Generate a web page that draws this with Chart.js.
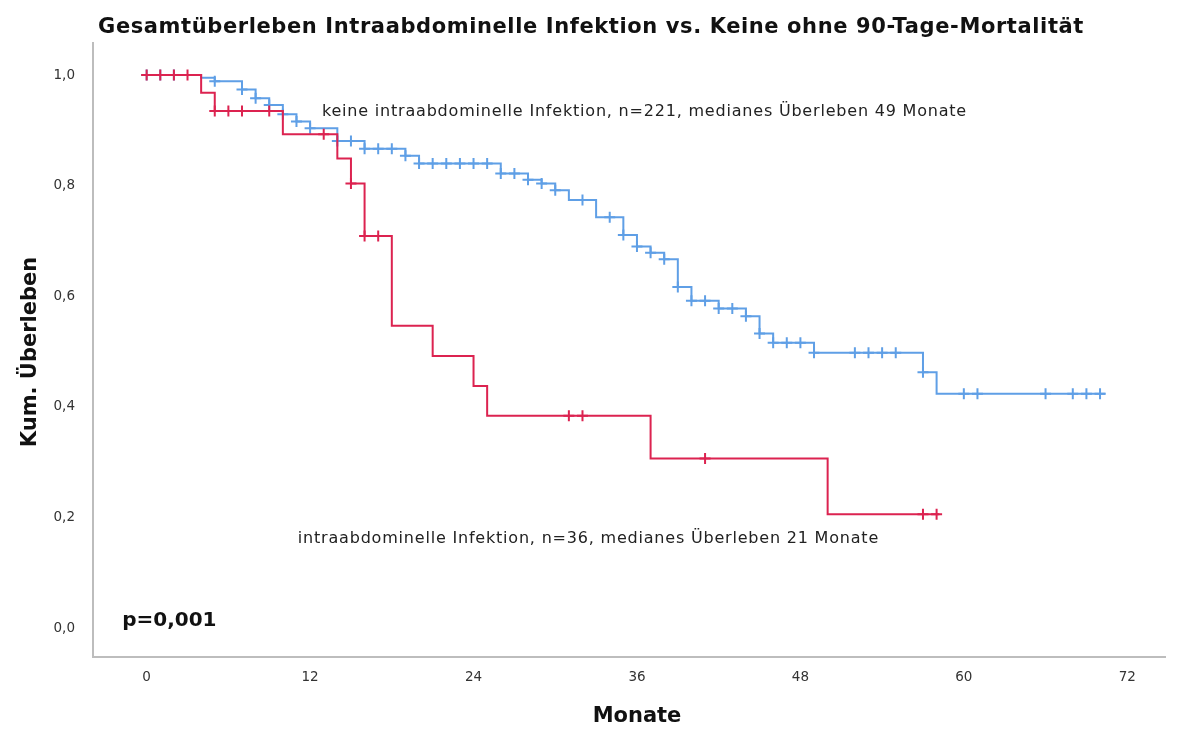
<!DOCTYPE html>
<html>
<head>
<meta charset="utf-8">
<script src="https://cdn.jsdelivr.net/npm/chart.js@4"></script>
<style>
  html, body { margin: 0; padding: 0; background: #fff; }
  #km { display: block; }
</style>
</head>
<body>
<canvas id="km" width="1179" height="729"></canvas>
<script>
// keine intraabdominelle Infektion (n=221)
const blueTimes = [0, 4, 5, 7, 8, 9, 10, 11, 12, 14, 16, 19, 20, 26, 28, 29, 30, 31, 33, 35, 36, 37, 38, 39, 40, 42, 44, 45, 46, 49, 57, 58]
const blueSurv = [1.0, 0.995, 0.989, 0.974, 0.958, 0.946, 0.929, 0.916, 0.904, 0.881, 0.867, 0.854, 0.840, 0.822, 0.811, 0.804, 0.792, 0.774, 0.743, 0.711, 0.690, 0.679, 0.667, 0.617, 0.592, 0.578, 0.564, 0.533, 0.516, 0.498, 0.463, 0.424]
const blueEnd = 70.4
const blueCensor = [0, 1, 2, 5, 7, 8, 9, 10, 11, 12, 14, 15, 16, 17, 18, 19, 20, 21, 22, 23, 24, 25, 26, 27, 28, 29, 30, 32, 34, 35, 36, 37, 38, 39, 40, 41, 42, 43, 44, 45, 46, 47, 48, 49, 52, 53, 54, 55, 57, 60, 61, 66, 68, 69, 70]

// intraabdominelle Infektion (n=36)
const redTimes = [0, 4, 5, 10, 14, 15, 16, 18, 21, 24, 25, 37, 50]
const redSurv = [1.0, 0.968, 0.935, 0.893, 0.849, 0.804, 0.709, 0.547, 0.492, 0.438, 0.384, 0.307, 0.206]
const redEnd = 58.2
const redCensor = [0, 1, 2, 3, 5, 6, 7, 9, 13, 15, 16, 17, 31, 32, 41, 57, 58]

const xTicks = [0, 12, 24, 36, 48, 60, 72]
const yTicks = [0, 0.2, 0.4, 0.6, 0.8, 1.0]

const chartTitle = "Gesamtüberleben Intraabdominelle Infektion vs. Keine ohne 90-Tage-Mortalität"
const xTitle = "Monate"
const yTitle = "Kum. Überleben"
const blueLabel = "keine intraabdominelle Infektion, n=221, medianes Überleben 49 Monate"
const redLabel = "intraabdominelle Infektion, n=36, medianes Überleben 21 Monate"
const pText = "p=0,001"

const BLUE = "#5f9fe6"
const RED = "#dc2350"

function stepPoints(times, surv, end) {
    let pts = []
    for (let i = 0; i < times.length; i++) {
        pts.push({ x: times[i], y: surv[i] })
    }
    pts.push({ x: end, y: surv[surv.length - 1] })
    return pts
}

function survAt(times, surv, t) {
    let s = surv[0]
    for (let i = 0; i < times.length; i++) {
        if (times[i] <= t) s = surv[i]
    }
    return s
}

function censorPoints(censor, times, surv) {
    return censor.map(t => ({ x: t, y: survAt(times, surv, t) }))
}

const textPlugin = {
    id: "kmText",
    afterDraw(chart) {
        const ctx = chart.ctx
        const xs = chart.scales.x
        const ys = chart.scales.y
        ctx.save()
        ctx.fillStyle = "#111"
        ctx.textBaseline = "middle"

        // title
        ctx.font = "bold 21px 'DejaVu Sans'"
        ctx.letterSpacing = "0.6px"
        ctx.textAlign = "center"
        ctx.fillText(chartTitle, 591, 28)

        // axis titles
        ctx.letterSpacing = "0px"
        ctx.font = "bold 21px 'DejaVu Sans'"
        ctx.fillText(xTitle, 637, 717)
        ctx.save()
        ctx.translate(31, 352)
        ctx.rotate(-Math.PI / 2)
        ctx.fillText(yTitle, 0, 0)
        ctx.restore()

        // curve labels
        ctx.textAlign = "left"
        ctx.font = "16px 'DejaVu Sans'"
        ctx.letterSpacing = "0.8px"
        ctx.fillStyle = "#222"
        ctx.fillText(blueLabel, xs.getPixelForValue(12.87), ys.getPixelForValue(0.933))
        ctx.fillText(redLabel, xs.getPixelForValue(11.1), ys.getPixelForValue(0.161))

        ctx.letterSpacing = "0px"
        ctx.font = "bold 20px 'DejaVu Sans'"
        ctx.fillStyle = "#111"
        ctx.fillText(pText, xs.getPixelForValue(-1.8), ys.getPixelForValue(0.013))
        ctx.restore()
    }
}

new Chart(document.getElementById("km"), {
    type: "line",
    data: {
        datasets: [
            {
                data: stepPoints(blueTimes, blueSurv, blueEnd),
                borderColor: BLUE,
                borderWidth: 2,
                stepped: true,
                pointRadius: 0,
                fill: false,
                order: 4
            },
            {
                type: "scatter",
                data: censorPoints(blueCensor, blueTimes, blueSurv),
                pointStyle: "cross",
                pointRadius: 5.5,
                borderColor: BLUE,
                borderWidth: 2,
                showLine: false,
                order: 3
            },
            {
                data: stepPoints(redTimes, redSurv, redEnd),
                borderColor: RED,
                borderWidth: 2,
                stepped: true,
                pointRadius: 0,
                fill: false,
                order: 2
            },
            {
                type: "scatter",
                data: censorPoints(redCensor, redTimes, redSurv),
                pointStyle: "cross",
                pointRadius: 5.5,
                borderColor: RED,
                borderWidth: 2,
                showLine: false,
                order: 1
            }
        ]
    },
    options: {
        responsive: false,
        animation: false,
        devicePixelRatio: 1,
        layout: { padding: { top: 43, right: 14, left: 0, bottom: 0 } },
        plugins: {
            legend: { display: false },
            title: { display: false },
            tooltip: { enabled: false }
        },
        scales: {
            x: {
                type: "linear",
                min: -3.94,
                max: 74.77,
                afterBuildTicks: axis => { axis.ticks = xTicks.map(v => ({ value: v })) },
                afterFit: axis => { axis.height = 72 },
                grid: { display: false },
                border: { display: true, color: "#bdbdbd", width: 2 },
                ticks: {
                    color: "#333",
                    font: { family: "DejaVu Sans", size: 13.5 },
                    padding: 4,
                    maxRotation: 0
                }
            },
            y: {
                type: "linear",
                min: -0.052,
                max: 1.058,
                afterBuildTicks: axis => { axis.ticks = yTicks.map(v => ({ value: v })) },
                afterFit: axis => { axis.width = 93 },
                grid: { display: false },
                border: { display: true, color: "#bdbdbd", width: 2 },
                ticks: {
                    color: "#333",
                    font: { family: "DejaVu Sans", size: 13.5 },
                    padding: 10,
                    callback: v => v.toFixed(1).replace(".", ",")
                }
            }
        }
    },
    plugins: [textPlugin]
})
</script>
</body>
</html>
